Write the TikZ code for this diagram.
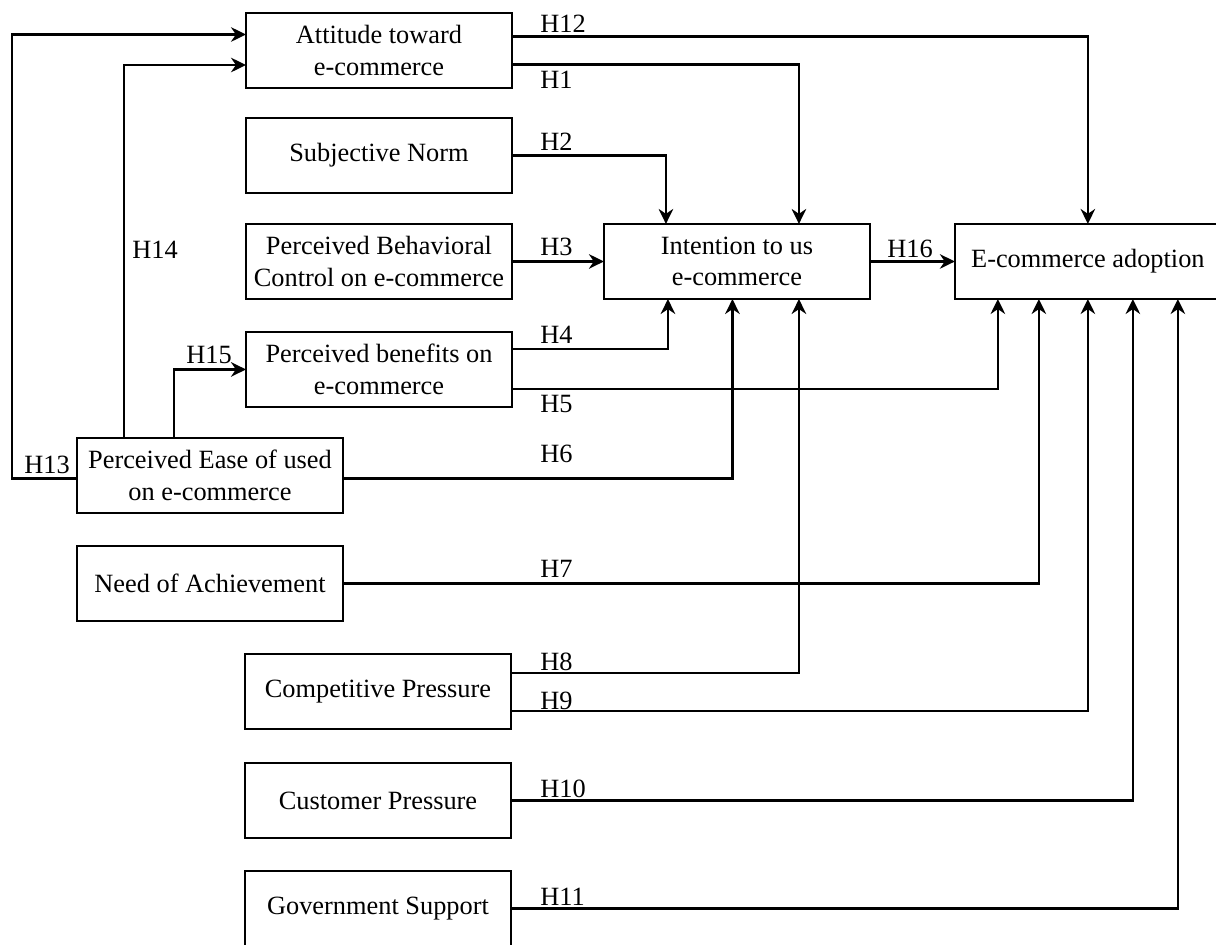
\documentclass[tikz,border=0pt]{standalone}
\usepackage{fontspec}
\setmainfont{Liberation Serif}
\usetikzlibrary{arrows.meta, positioning, calc}

\begin{document}
\begin{tikzpicture}[
    x=0.02cm, y=-0.02cm,
    every node/.style={font=\fontsize{15}{18}\selectfont},
    var/.style={rectangle, draw, line width=1.4pt, outer sep=0pt, minimum width=5.32cm, minimum height=1.5cm, inner sep=2pt, align=center},
    arrow/.style={line width=1.4pt, -{Stealth[length=3mm, width=2.9mm]}},
    hyp/.style={anchor=base west, inner sep=0pt}
  ]
    \useasboundingbox (0,0) rectangle (1216,944);
    % Nodes
    \node[var] (att) at (379,50.5) {Attitude toward\\e-commerce};
    \node[var, below=0.6cm of att] (sn) {Subjective Norm};
    \node[var, below=0.62cm of sn] (pbc) {Perceived Behavioral\\Control on e-commerce};
    \node[var, right=1.84cm of pbc] (int) {Intention to us\\e-commerce};
    \node[var, right=1.7cm of int] (ado) {E-commerce adoption};
    \node[var, below=0.66cm of pbc] (pb) {Perceived benefits on\\e-commerce};
    \node[var] (peou) at (210,475.5) {Perceived Ease of used\\on e-commerce};
    \node[var, below=0.66cm of peou] (noa) {Need of Achievement};
    \node[var] (cp) at (378,691.5) {Competitive Pressure};
    \node[var, below=0.68cm of cp] (cup) {Customer Pressure};
    \node[var, below=0.66cm of cup] (gs) {Government Support};
    % Arrows into intention
    \draw[arrow] ($(att.east)+(0,14)$) -| ($(int.north)+(62,0)$);
    \draw[arrow] (sn.east) -| ($(int.north)+(-71,0)$);
    \draw[arrow] (pbc.east) -- (int.west);
    \draw[arrow] ($(pb.east)+(0,-20.5)$) -| ($(int.south)+(-69,0)$);
    \draw[arrow] ($(peou.east)+(0,3)$) -| ($(int.south)+(-4.5,0)$);
    \draw[arrow] ($(cp.east)+(0,-18.5)$) -| ($(int.south)+(62,0)$);
    % Arrows into adoption
    \draw[arrow] ($(att.east)+(0,-14)$) -| (ado.north);
    \draw[arrow] (int.east) -- (ado.west);
    \draw[arrow] ($(pb.east)+(0,19.5)$) -| ($(ado.south)+(-90,0)$);
    \draw[arrow] (noa.east) -| ($(ado.south)+(-49,0)$);
    \draw[arrow] ($(cp.east)+(0,19.5)$) -| (ado.south);
    \draw[arrow] (cup.east) -| ($(ado.south)+(45,0)$);
    \draw[arrow] (gs.east) -| ($(ado.south)+(90,0)$);
    % Ease of use branch
    \draw[arrow] ($(peou.west)+(0,3)$) -- ++(-65,0) |- ($(att.west)+(0,-16)$);
    \draw[arrow] ($(peou.north)+(-86,0)$) |- ($(att.west)+(0,14.5)$);
    \draw[arrow] ($(peou.north)+(-36,0)$) |- (pb.west);
    % Hypothesis labels
    \node[hyp] (h1) at (540,88) {H1};
    \node[hyp] (h2) at (540,150) {H2};
    \node[hyp] (h3) at (540,255) {H3};
    \node[hyp] (h4) at (540,343) {H4};
    \node[hyp] (h5) at (540,412) {H5};
    \node[hyp] (h6) at (540,462) {H6};
    \node[hyp] (h7) at (540,577) {H7};
    \node[hyp] (h8) at (540,670) {H8};
    \node[hyp] (h9) at (540,709) {H9};
    \node[hyp] (h10) at (540,797) {H10};
    \node[hyp] (h11) at (540,905) {H11};
    \node[hyp] (h12) at (540,32) {H12};
    \node[hyp] (h13) at (24,473) {H13};
    \node[hyp] (h14) at (132,258) {H14};
    \node[hyp] (h15) at (186,363) {H15};
    \node[hyp] (h16) at (887,257) {H16};
  \end{tikzpicture}
\end{document}
